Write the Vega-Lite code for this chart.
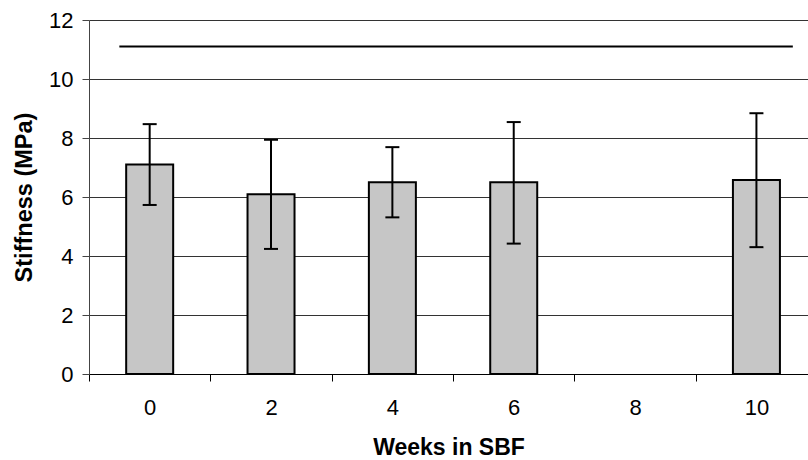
{
  "$schema": "https://vega.github.io/schema/vega-lite/v6.json",
  "width": 719,
  "height": 354,
  "autosize": {"type": "none"},
  "padding": {"left": 89, "top": 20, "right": 0, "bottom": 86},
  "background": "white",
  "config": {
    "view": {"stroke": null},
    "font": "Liberation Sans",
    "scale": {"continuousPadding": 0},
    "axis": {"labelFont": "Liberation Sans", "titleFont": "Liberation Sans", "labelColor": "black", "titleColor": "black"}
  },
  "datasets": {
    "bars": [
      {"week": 0, "stiffness": 7.1, "lo": 5.73, "hi": 8.47},
      {"week": 2, "stiffness": 6.09, "lo": 4.24, "hi": 7.94},
      {"week": 4, "stiffness": 6.5, "lo": 5.31, "hi": 7.69},
      {"week": 6, "stiffness": 6.5, "lo": 4.42, "hi": 8.54},
      {"week": 10, "stiffness": 6.58, "lo": 4.3, "hi": 8.84}
    ],
    "ref": [
      {"week": -0.5, "week2": 10.6, "stiffness": 11.1}
    ]
  },
  "layer": [
    {
      "data": {"name": "bars"},
      "mark": {"type": "bar", "size": 47, "fill": "#c6c6c6", "stroke": "black", "strokeWidth": 2},
      "encoding": {
        "x": {
          "field": "week", "type": "quantitative",
          "scale": {"domain": [-1, 10.85], "nice": false, "zero": false, "padding": 0},
          "axis": {
            "title": "Weeks in SBF",
            "titleFontSize": 23, "titleFontWeight": "bold", "titlePadding": 18,
            "values": [-1, 0, 1, 2, 3, 4, 5, 6, 7, 8, 9, 10],
            "format": "d",
            "labelExpr": "datum.value % 2 == 0 ? datum.label : ''",
            "labelFontSize": 22, "labelPadding": 16, "labelFlush": false, "labelOverlap": false,
            "tickSize": 7, "tickColor": "black", "tickWidth": 1,
            "tickOpacity": {"condition": {"test": "datum.value % 2 == 0", "value": 0}, "value": 1},
            "domainColor": "black", "domainWidth": 1,
            "grid": false
          }
        },
        "y": {
          "field": "stiffness", "type": "quantitative",
          "scale": {"domain": [0, 12], "nice": false},
          "axis": {
            "title": "Stiffness (MPa)",
            "titleFontSize": 23.5, "titleFontWeight": "bold", "titlePadding": 12,
            "values": [0, 2, 4, 6, 8, 10, 12],
            "format": "d",
            "labelFontSize": 22, "labelPadding": 9,
            "tickSize": 7, "tickColor": "#444", "domainColor": "#444",
            "grid": true, "gridColor": "#333", "gridWidth": 1
          }
        }
      }
    },
    {
      "data": {"name": "bars"},
      "mark": {"type": "rule", "color": "black", "strokeWidth": 2},
      "encoding": {
        "x": {"field": "week", "type": "quantitative", "title": "Weeks in SBF"},
        "y": {"field": "lo", "type": "quantitative", "title": "Stiffness (MPa)"},
        "y2": {"field": "hi"}
      }
    },
    {
      "data": {"name": "bars"},
      "mark": {"type": "tick", "orient": "horizontal", "size": 14, "thickness": 2, "color": "black", "opacity": 1},
      "encoding": {
        "x": {"field": "week", "type": "quantitative", "title": "Weeks in SBF"},
        "y": {"field": "hi", "type": "quantitative", "title": "Stiffness (MPa)"}
      }
    },
    {
      "data": {"name": "bars"},
      "mark": {"type": "tick", "orient": "horizontal", "size": 14, "thickness": 2, "color": "black", "opacity": 1},
      "encoding": {
        "x": {"field": "week", "type": "quantitative", "title": "Weeks in SBF"},
        "y": {"field": "lo", "type": "quantitative", "title": "Stiffness (MPa)"}
      }
    },
    {
      "data": {"name": "ref"},
      "mark": {"type": "rule", "color": "black", "strokeWidth": 2},
      "encoding": {
        "x": {"field": "week", "type": "quantitative", "title": "Weeks in SBF"},
        "x2": {"field": "week2"},
        "y": {"field": "stiffness", "type": "quantitative", "title": "Stiffness (MPa)"}
      }
    }
  ]
}
